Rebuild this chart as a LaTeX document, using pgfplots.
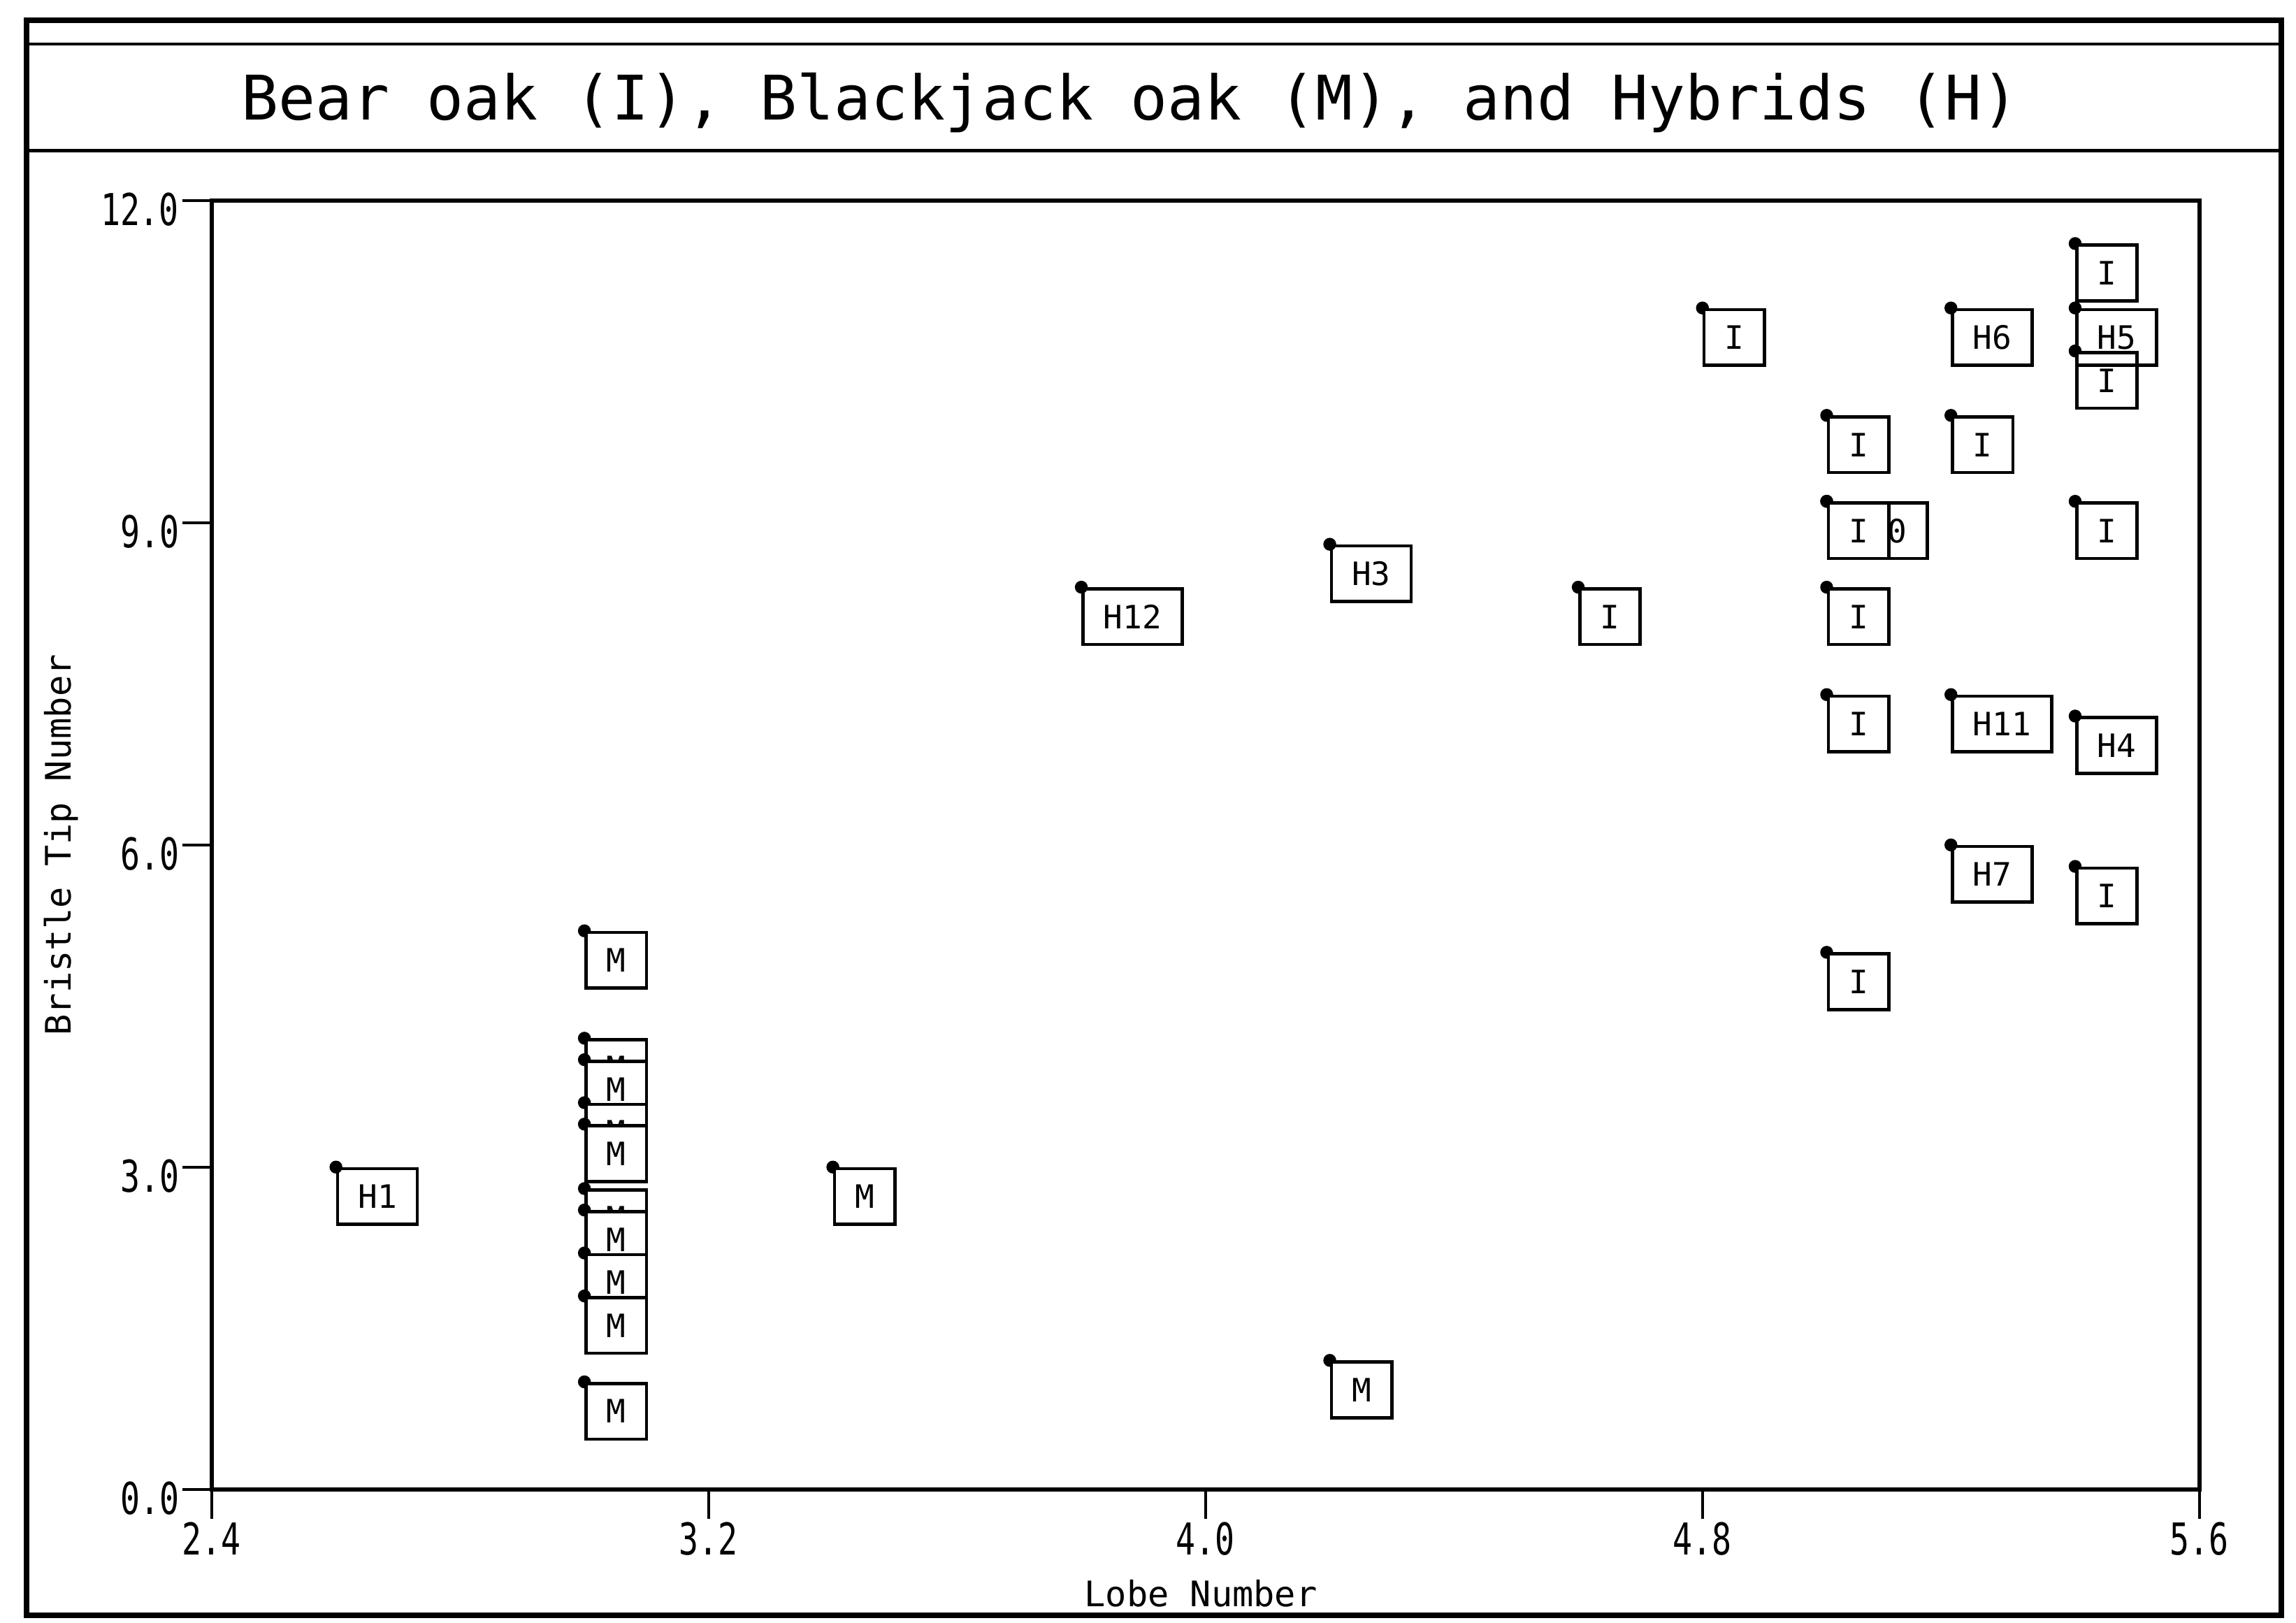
\documentclass[border=0pt]{standalone}
\usepackage{pgfplots}
\pgfplotsset{compat=1.18}
\usepackage{pgfplotstable}
\usepackage{fontspec}
\setmainfont{DejaVu Sans Mono}
\newfontfamily\narrowmono[FakeStretch=0.74]{DejaVu Sans Mono}

\pgfplotstableread{
x y label
3.0 5.2 M
3.0 4.2 M
3.0 4.0 M
3.0 3.6 M
3.0 3.4 M
3.0 2.8 M
3.0 2.6 M
3.0 2.2 M
3.0 1.8 M
3.0 1.0 M
3.4 3.0 M
4.2 1.2 M
}\Mdata

\pgfplotstableread{
x y label
5.0 9.2 H10
}\Hten

\pgfplotstableread{
x y label
4.6 8.4 I
4.8 11.0 I
5.0 10.0 I
5.0 9.2 I
5.0 8.4 I
5.0 7.4 I
5.0 5.0 I
5.2 10.0 I
5.4 11.6 I
5.4 10.6 I
5.4 9.2 I
5.4 5.8 I
}\Idata

\pgfplotstableread{
x y label
2.6 3.0 H1
3.8 8.4 H12
4.2 8.8 H3
5.2 11.0 H6
5.4 11.0 H5
5.2 7.4 H11
5.4 7.2 H4
5.2 6.0 H7
}\Hdata

\begin{document}
\begin{tikzpicture}
\useasboundingbox (-72.3pt,-45.5pt) rectangle (711.7pt,508.5pt);
\draw[line width=2pt] (-63.3pt,-43pt) rectangle (706.7pt,501.5pt);
\draw[line width=1.1pt] (-62.3pt,493.5pt) -- (705.7pt,493.5pt);
\draw[line width=1.1pt] (-62.3pt,457pt) -- (705.7pt,457pt);
\node[font=\fontsize{21}{25}\selectfont] at (313.7pt,473.5pt) {Bear oak (I), Blackjack oak (M), and Hybrids (H)};

\begin{axis}[
  at={(0pt,0pt)}, anchor=south west,
  scale only axis, width=678.7pt, height=440pt,
  xmin=2.4, xmax=5.6, ymin=0, ymax=12,
  xtick={2.4,3.2,4.0,4.8,5.6}, ytick={0,3,6,9,12},
  xtick pos=bottom, ytick pos=left,
  tick align=outside, major tick length=10pt,
  tick style={line width=1pt, black},
  axis line style={line width=1.4pt},
  /pgf/number format/assume math mode=true,
  /pgf/number format/.cd, fixed, fixed zerofill, precision=1, /pgfplots/.cd,
  xticklabel style={font=\narrowmono\fontsize{15}{17}\selectfont, inner ysep=1pt},
  yticklabel style={font=\narrowmono\fontsize{15}{17}\selectfont, inner xsep=1pt, yshift=-3pt},
  xlabel={Lobe Number},
  ylabel={Bristle Tip Number},
  xlabel style={font=\fontsize{12}{14}\selectfont, at={(axis description cs:0.4976,-0.0807)}, anchor=center},
  ylabel style={font=\fontsize{12}{14}\selectfont, at={(axis description cs:-0.0756,0.5)}, anchor=center},
  clip=false,
  every node near coord/.append style={anchor=north west, draw, line width=1.1pt,
     inner xsep=7pt, inner ysep=2pt, minimum height=19pt,
     font=\fontsize{11}{13}\selectfont, text=black},
]
\addplot[only marks, mark=*, mark size=2pt, black, nodes near coords, point meta=explicit symbolic]
  table[x=x, y=y, meta=label] {\Hten};
\addplot[only marks, mark=*, mark size=2pt, black, nodes near coords, point meta=explicit symbolic,
  every node near coord/.append style={fill=white}]
  table[x=x, y=y, meta=label] {\Idata};
\addplot[only marks, mark=*, mark size=2pt, black, nodes near coords, point meta=explicit symbolic]
  table[x=x, y=y, meta=label] {\Hdata};
\addplot[only marks, mark=*, mark size=2pt, black, nodes near coords, point meta=explicit symbolic,
  every node near coord/.append style={fill=white}]
  table[x=x, y=y, meta=label] {\Mdata};
\end{axis}
\end{tikzpicture}
\end{document}
